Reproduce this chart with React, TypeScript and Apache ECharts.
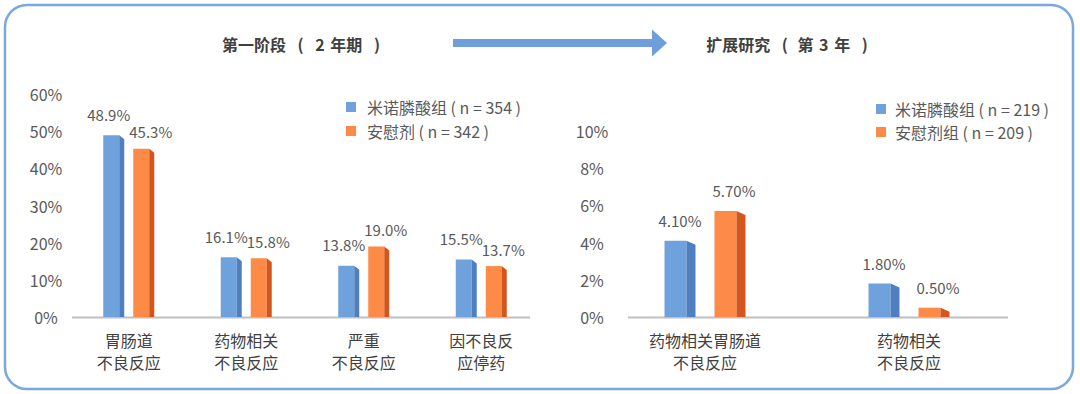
import React, { useEffect, useRef } from "react";
import * as echarts from "echarts";

// ---- Data ----
const leftCategories = ["胃肠道\n不良反应", "药物相关\n不良反应", "严重\n不良反应", "因不良反\n应停药"];
const leftDrugName = "米诺膦酸组 ( n = 354 )";
const leftPlaceboName = "安慰剂 ( n = 342 )";
const leftDrug = [48.9, 16.1, 13.8, 15.5];
const leftPlacebo = [45.3, 15.8, 19.0, 13.7];
const leftTicks = { min: 0, max: 60, interval: 10 };

const rightCategories = ["药物相关胃肠道\n不良反应", "药物相关\n不良反应"];
const rightDrugName = "米诺膦酸组 ( n = 219 )";
const rightPlaceboName = "安慰剂组 ( n = 209 )";
const rightDrug = [4.1, 1.8];
const rightPlacebo = [5.7, 0.5];
const rightTicks = { min: 0, max: 10, interval: 2 };

// Titles (rich-text tokens keep the original characters, spaces included)
const leftTitle = "{t|第一阶段 }{p|(}{t| }{n|2}{t| 年期 }{p|)}";
const rightTitle = "{t|扩展研究 }{p|(}{t| 第 }{n|3}{t| 年 }{p|)}";

// ---- Styles ----
const FONT = "'Noto Sans CJK SC', 'Noto Sans', sans-serif";
const BLUE = ["#6fa1dc", "#4f7fbf"];
const ORANGE = ["#fd8a47", "#d2561e"];
const GRAY_TEXT = "#595959";
const DARK_TEXT = "#404040";

type BarCfg = {
  front: number;
  side: number;
  gap: number;
  slant: number;
  index: number;
  colors: string[];
  digits: number;
  labelGap: number;
  labelShift: number;
};

function makeRender(cfg: BarCfg) {
  return (params: any, api: any) => {
    const cat = api.value(0);
    const val = api.value(1);
    const top = api.coord([cat, val]);
    const base = api.coord([cat, 0]);
    const total = 2 * (cfg.front + cfg.side) + cfg.gap;
    const x0 = top[0] - total / 2 + cfg.index * (cfg.front + cfg.side + cfg.gap);
    const h = base[1] - top[1];
    const slant = Math.min(cfg.slant, h);
    return {
      type: "group",
      children: [
        {
          type: "rect",
          shape: { x: x0, y: top[1], width: cfg.front, height: h },
          style: { fill: cfg.colors[0] },
        },
        {
          type: "polygon",
          shape: {
            points: [
              [x0 + cfg.front, top[1]],
              [x0 + cfg.front + cfg.side, top[1] + slant],
              [x0 + cfg.front + cfg.side, base[1]],
              [x0 + cfg.front, base[1]],
            ],
          },
          style: { fill: cfg.colors[1] },
        },
        {
          type: "text",
          x: x0 + (cfg.front + cfg.side) / 2 + cfg.labelShift,
          y: top[1] - cfg.labelGap,
          style: {
            text: val.toFixed(cfg.digits) + "%",
            fill: GRAY_TEXT,
            font: `15px ${FONT}`,
            align: "center",
            verticalAlign: "middle",
          },
        },
      ],
    };
  };
}

function toData(values: number[]) {
  return values.map((v, i) => [i, v]);
}

const titleRich = {
  t: { fontSize: 16, fontWeight: "bold", fill: DARK_TEXT, fontFamily: FONT, lineHeight: 22 },
  p: { fontSize: 16, fontWeight: "bold", fill: DARK_TEXT, fontFamily: FONT, lineHeight: 22, padding: [0, 6, 0, 8] },
  n: { fontSize: 16, fontWeight: "bold", fill: DARK_TEXT, fontFamily: FONT, lineHeight: 22, padding: [0, 2, 0, 2] },
};

export default function App() {
  const ref = useRef<HTMLDivElement>(null);

  useEffect(() => {
    if (!ref.current) return;
    const chart = echarts.init(ref.current, undefined, { renderer: "svg" });

    const leftGeom = { front: 16, side: 5, gap: 9, slant: 4, digits: 1 };
    const rightGeom = { front: 22, side: 9, gap: 19, slant: 4, digits: 2 };

    const yAxisCommon = {
      type: "value",
      splitLine: { show: false },
      axisLine: { show: false },
      axisTick: { show: false },
    };
    const xAxisCommon = {
      type: "category",
      axisLine: { show: false },
      axisTick: { show: false },
      axisLabel: {
        margin: 12,
        fontSize: 16,
        lineHeight: 22,
        color: DARK_TEXT,
        fontFamily: FONT,
      },
    };

    chart.setOption({
      animation: false,
      textStyle: { fontFamily: FONT },
      grid: [
        { left: 70, width: 470, top: 94, height: 223 },
        { left: 603, width: 408, top: 131, height: 186 },
      ],
      xAxis: [
        { ...xAxisCommon, gridIndex: 0, data: leftCategories },
        { ...xAxisCommon, gridIndex: 1, data: rightCategories },
      ],
      yAxis: [
        {
          ...yAxisCommon,
          gridIndex: 0,
          ...leftTicks,
          axisLabel: { formatter: "{value}%", fontSize: 16, color: GRAY_TEXT, align: "center", margin: 24, fontFamily: FONT },
        },
        {
          ...yAxisCommon,
          gridIndex: 1,
          ...rightTicks,
          axisLabel: { formatter: "{value}%", fontSize: 16, color: GRAY_TEXT, align: "center", margin: 11, fontFamily: FONT },
        },
      ],
      legend: [
        {
          data: [leftDrugName, leftPlaceboName],
          orient: "vertical",
          left: 341,
          top: 94,
          icon: "rect",
          itemWidth: 10,
          itemHeight: 10,
          itemGap: 8,
          textStyle: { fontSize: 16, lineHeight: 16, color: GRAY_TEXT, fontFamily: FONT, padding: [0, 0, 0, 6] },
        },
        {
          data: [rightDrugName, rightPlaceboName],
          orient: "vertical",
          left: 871,
          top: 96,
          icon: "rect",
          itemWidth: 10,
          itemHeight: 10,
          itemGap: 7,
          textStyle: { fontSize: 16, lineHeight: 16, color: GRAY_TEXT, fontFamily: FONT, padding: [0, 0, 0, 4] },
        },
      ],
      series: [
        {
          type: "custom",
          name: leftDrugName,
          xAxisIndex: 0,
          yAxisIndex: 0,
          itemStyle: { color: BLUE[0] },
          encode: { x: 0, y: 1 },
          data: toData(leftDrug),
          renderItem: makeRender({ ...leftGeom, index: 0, colors: BLUE, labelShift: -5, labelGap: 21 }),
        },
        {
          type: "custom",
          name: leftPlaceboName,
          xAxisIndex: 0,
          yAxisIndex: 0,
          itemStyle: { color: ORANGE[0] },
          encode: { x: 0, y: 1 },
          data: toData(leftPlacebo),
          renderItem: makeRender({ ...leftGeom, index: 1, colors: ORANGE, labelShift: 7, labelGap: 17 }),
        },
        {
          type: "custom",
          name: rightDrugName,
          xAxisIndex: 1,
          yAxisIndex: 1,
          itemStyle: { color: BLUE[0] },
          encode: { x: 0, y: 1 },
          data: toData(rightDrug),
          renderItem: makeRender({ ...rightGeom, index: 0, colors: BLUE, labelShift: 0, labelGap: 20 }),
        },
        {
          type: "custom",
          name: rightPlaceboName,
          xAxisIndex: 1,
          yAxisIndex: 1,
          itemStyle: { color: ORANGE[0] },
          encode: { x: 0, y: 1 },
          data: toData(rightPlacebo),
          renderItem: makeRender({ ...rightGeom, index: 1, colors: ORANGE, labelShift: 4, labelGap: 20 }),
        },
      ],
      graphic: [
        {
          type: "rect",
          shape: { x: 5, y: 5, width: 1068, height: 384, r: 22 },
          style: { fill: "none", stroke: "#7aa7de", lineWidth: 2.5 },
          z: 0,
        },
        {
          type: "polygon",
          shape: {
            points: [
              [453, 39],
              [652, 39],
              [652, 29.5],
              [667, 43],
              [652, 56.5],
              [652, 47],
              [453, 47],
            ],
          },
          style: { fill: "#6f9fdb" },
        },
        {
          type: "line",
          shape: { x1: 72, y1: 317.5, x2: 530, y2: 317.5 },
          style: { stroke: "#bfbfbf", lineWidth: 2 },
        },
        {
          type: "line",
          shape: { x1: 628, y1: 317.5, x2: 1008, y2: 317.5 },
          style: { stroke: "#bfbfbf", lineWidth: 2 },
        },
        {
          type: "text",
          x: 304,
          y: 44,
          style: {
            text: leftTitle,
            rich: titleRich,
            align: "center",
            verticalAlign: "middle",
          },
        },
        {
          type: "text",
          x: 790,
          y: 44,
          style: {
            text: rightTitle,
            rich: titleRich,
            align: "center",
            verticalAlign: "middle",
          },
        },
      ],
    });

    return () => chart.dispose();
  }, []);

  return (
    <div
      ref={ref}
      style={{ position: "fixed", left: 0, top: 0, width: 1080, height: 394, background: "#ffffff" }}
    />
  );
}
